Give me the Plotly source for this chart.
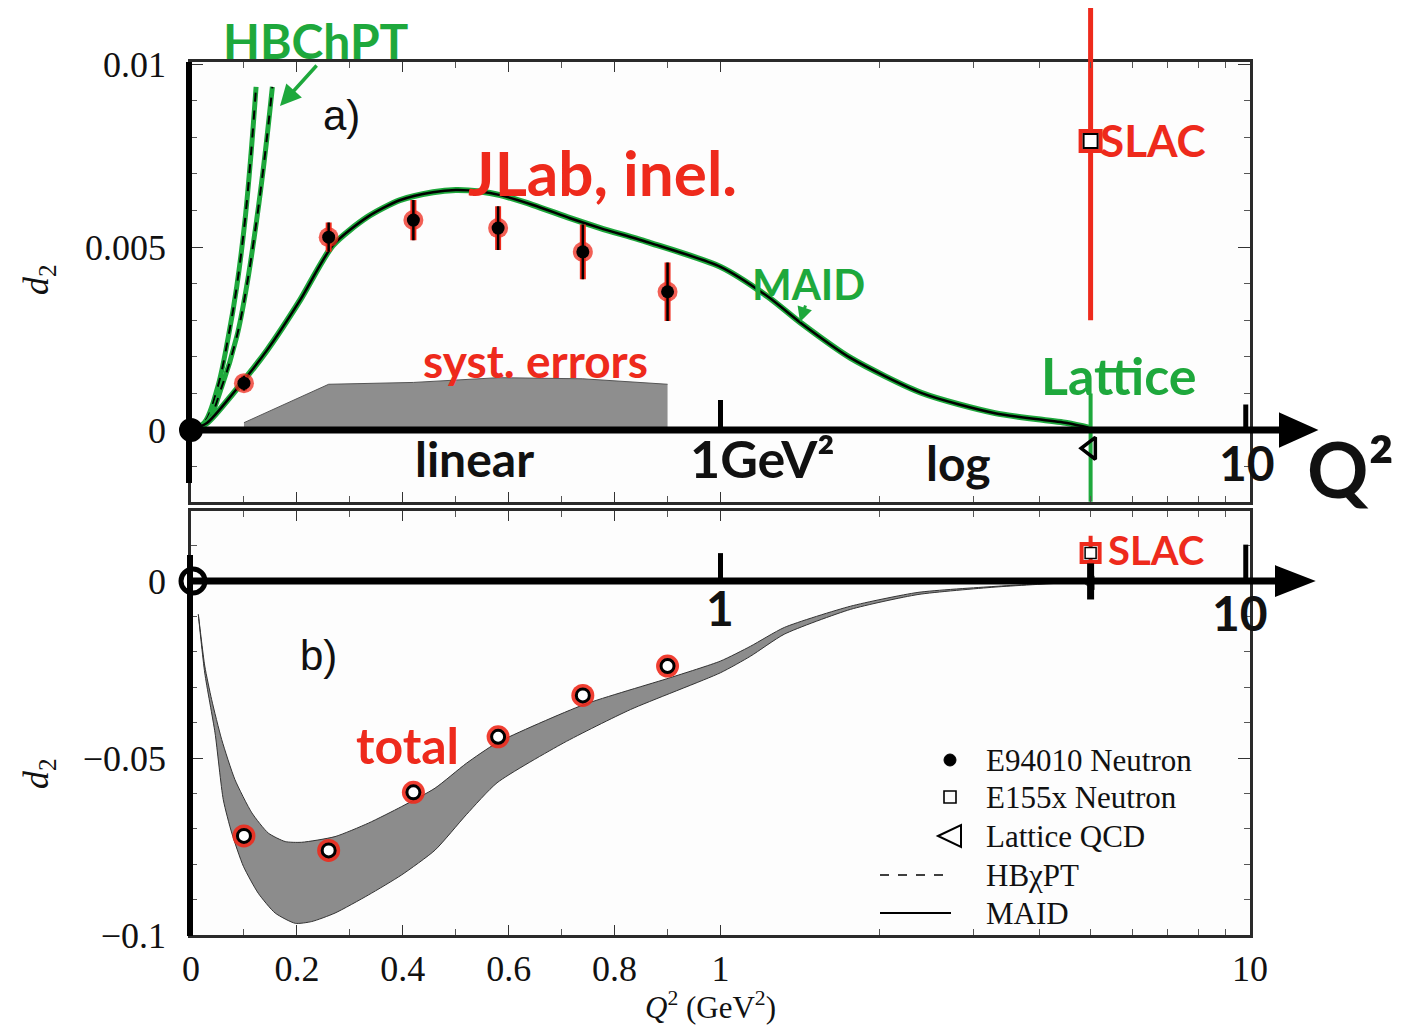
import math
import plotly.graph_objects as go

# ---------------- data ----------------
# panel a) : inelastic d2 of the neutron, E94010 (JLab)
q2_e94010 = [0.10, 0.26, 0.42, 0.58, 0.74, 0.90]
d2_e94010 = [0.00128, 0.00527, 0.00574, 0.00552, 0.00487, 0.00378]
d2_e94010_err = [0.0002, 0.0004, 0.00055, 0.0006, 0.00075, 0.0008]
d2_e94010_syst = [0.0002, 0.00125, 0.0013, 0.00143, 0.0014, 0.00125]

# E155x (SLAC) neutron
q2_e155x = [5.0]
d2_e155x = [0.0079]
d2_e155x_err = [0.0049]

# Lattice QCD
q2_lattice = [5.0]
d2_lattice = [-0.0005]
d2_lattice_err = [0.0015]

# MAID (inelastic)
q2_maid = [0.0, 0.03, 0.08, 0.144, 0.206, 0.268, 0.333, 0.394, 0.457, 0.50, 0.546, 0.584,
           0.646, 0.716, 0.773, 0.868, 1.0, 1.23, 1.42, 1.76, 2.40, 3.30, 4.51, 5.0]
d2_maid = [0.0, 0.00019, 0.00101, 0.00219, 0.00355, 0.00505, 0.00582, 0.00628, 0.0065,
           0.00656, 0.00652, 0.00642, 0.00615, 0.00579, 0.00552, 0.00511, 0.00446,
           0.00364, 0.00292, 0.00197, 0.00101, 0.00046, 0.00019, 0.00005]

# HBchiPT band edges
q2_hb_lo = [0.0, 0.025, 0.0505, 0.0705, 0.0864, 0.102, 0.1134, 0.1229]
d2_hb_lo = [0.0, 0.0002, 0.00118, 0.00255, 0.00392, 0.00574, 0.00756, 0.00938]
q2_hb_hi = [0.0, 0.03, 0.058, 0.0864, 0.105, 0.124, 0.14, 0.1537]
d2_hb_hi = [0.0, 0.0002, 0.00118, 0.00255, 0.00392, 0.00574, 0.00756, 0.00938]

# panel b) : total d2 (elastic + inelastic)
d2_total = [-0.0720, -0.0761, -0.0597, -0.0440, -0.0323, -0.0240]

# MAID total band (upper / lower edges)
q2_band_up = [0.0138, 0.026, 0.039, 0.058, 0.083, 0.115, 0.146, 0.178, 0.209, 0.272,
              0.335, 0.398, 0.461, 0.52, 0.578, 0.742, 0.905, 1.0, 1.14, 1.32, 1.76,
              2.36, 3.3, 4.5, 5.0]
d2_band_up = [-0.0094, -0.024, -0.0335, -0.0448, -0.0561, -0.0655, -0.0712, -0.0736,
              -0.0738, -0.0722, -0.0684, -0.0637, -0.0585, -0.0515, -0.0457, -0.0349,
              -0.0273, -0.0226, -0.0184, -0.0131, -0.0071, -0.0032, -0.0015, -0.0004,
              -0.0002]
q2_band_lo = [0.0138, 0.026, 0.0454, 0.061, 0.077, 0.099, 0.127, 0.159, 0.197, 0.228,
              0.272, 0.335, 0.398, 0.461, 0.52, 0.578, 0.704, 0.83, 1.0, 1.14, 1.32,
              1.76, 2.36, 3.3, 4.5, 5.0]
d2_band_lo = [-0.0094, -0.026, -0.0429, -0.0618, -0.0712, -0.0806, -0.0882, -0.0938,
              -0.0967, -0.0962, -0.0938, -0.0887, -0.0830, -0.0760, -0.0660, -0.0570,
              -0.0457, -0.0363, -0.0259, -0.0212, -0.0150, -0.0080, -0.0038, -0.0017,
              -0.0005, -0.0003]

x_tick_vals = [0, 0.2, 0.4, 0.6, 0.8, 1, 10]
x_tick_text = ["0", "0.2", "0.4", "0.6", "0.8", "1", "10"]
x_minor_vals = [0.1, 0.3, 0.5, 0.7, 0.9, 2, 3, 4, 5, 6, 7, 8, 9]

# ---------------- helpers ----------------
def qt(q):
    """linear axis for Q2<=1, logarithmic above (one decade = one unit)"""
    return q if q <= 1 else 1 + math.log10(q)

def qts(arr):
    return [qt(v) for v in arr]

L, R, T, B = 191, 1250, 62, 935  # plot area in px
W, H = 1418, 1027

def px(x):
    return (x - L) / (R - L)

def py(y):
    return (B - y) / (B - T)

GREEN = "#1ea83c"
RED = "#ee2a1c"
SERIF = "Liberation Serif"
HAND = "Lato"

fig = go.Figure()

# ---------------- panel a ----------------
fig.add_trace(go.Scatter(x=qts(q2_e94010), y=d2_e94010_syst, mode="lines", fill="tozeroy",
                         fillcolor="#8e8e8e", line=dict(color="#555555", width=1),
                         xaxis="x", yaxis="y", showlegend=False, name="syst. errors"))
for qq, dd in ((q2_hb_lo, d2_hb_lo), (q2_hb_hi, d2_hb_hi)):
    fig.add_trace(go.Scatter(x=qts(qq), y=dd, mode="lines", line=dict(color=GREEN, width=5, shape="spline"),
                             xaxis="x", yaxis="y", showlegend=False, hoverinfo="skip"))
    fig.add_trace(go.Scatter(x=qts(qq), y=dd, mode="lines", line=dict(color="black", width=2, dash="dash", shape="spline"),
                             xaxis="x", yaxis="y", showlegend=False, name="HBχPT"))
fig.add_trace(go.Scatter(x=qts(q2_maid), y=d2_maid, mode="lines",
                         line=dict(color=GREEN, width=6, shape="spline", smoothing=0.7),
                         xaxis="x", yaxis="y", showlegend=False, hoverinfo="skip"))
fig.add_trace(go.Scatter(x=qts(q2_maid), y=d2_maid, mode="lines",
                         line=dict(color="black", width=2.5, shape="spline", smoothing=0.7),
                         xaxis="x", yaxis="y", showlegend=False, name="MAID"))
# E94010 with red marker highlight
fig.add_trace(go.Scatter(x=qts(q2_e94010), y=d2_e94010, mode="markers",
                         marker=dict(color=RED, size=20, opacity=0.75),
                         error_y=dict(type="data", array=d2_e94010_err, color=RED, thickness=6, width=0),
                         xaxis="x", yaxis="y", showlegend=False, hoverinfo="skip"))
fig.add_trace(go.Scatter(x=qts(q2_e94010), y=d2_e94010, mode="markers",
                         marker=dict(color="black", size=13),
                         error_y=dict(type="data", array=d2_e94010_err, color="black", thickness=2.5, width=0),
                         xaxis="x", yaxis="y", showlegend=False, name="E94010 Neutron"))
# SLAC E155x
fig.add_trace(go.Scatter(x=qts(q2_e155x), y=d2_e155x, mode="markers",
                         marker=dict(color=RED, size=20, symbol="square-open", line=dict(width=4)),
                         error_y=dict(type="data", array=d2_e155x_err, color=RED, thickness=5, width=0),
                         xaxis="x", yaxis="y", showlegend=False, hoverinfo="skip"))
fig.add_trace(go.Scatter(x=qts(q2_e155x), y=d2_e155x, mode="markers",
                         marker=dict(color="white", size=14, symbol="square", line=dict(width=2, color="black")),
                         xaxis="x", yaxis="y", showlegend=False, name="E155x Neutron"))
# Lattice
fig.add_trace(go.Scatter(x=qts(q2_lattice), y=d2_lattice, mode="markers",
                         marker=dict(color="black", size=19, symbol="triangle-left-open", line=dict(width=3.5)),
                         error_y=dict(type="data", array=d2_lattice_err, color=GREEN, thickness=4, width=0),
                         xaxis="x", yaxis="y", showlegend=False, name="Lattice QCD"))

# ---------------- panel b ----------------
band_x = qts(q2_band_up) + qts(q2_band_lo)[::-1]
band_y = d2_band_up + d2_band_lo[::-1]
fig.add_trace(go.Scatter(x=band_x, y=band_y, mode="lines", fill="toself", fillcolor="#8c8c8c",
                         line=dict(color="#333333", width=1, shape="spline", smoothing=0.6),
                         xaxis="x2", yaxis="y2", showlegend=False, name="MAID total"))
fig.add_trace(go.Scatter(x=qts(q2_e94010), y=d2_total, mode="markers",
                         marker=dict(color=RED, size=23, opacity=0.9),
                         xaxis="x2", yaxis="y2", showlegend=False, hoverinfo="skip"))
fig.add_trace(go.Scatter(x=qts(q2_e94010), y=d2_total, mode="markers",
                         marker=dict(color="white", size=13, line=dict(color="black", width=3)),
                         xaxis="x2", yaxis="y2", showlegend=False, name="total"))
fig.add_trace(go.Scatter(x=qts(q2_e155x), y=d2_e155x, mode="markers",
                         marker=dict(color=RED, size=18, symbol="square-open", line=dict(width=4)),
                         error_y=dict(type="data", array=d2_e155x_err, color=RED, thickness=4, width=0),
                         xaxis="x2", yaxis="y2", showlegend=False, hoverinfo="skip"))
fig.add_trace(go.Scatter(x=qts(q2_e155x), y=d2_e155x, mode="markers",
                         marker=dict(color="white", size=11, symbol="square", line=dict(width=1.5, color="black")),
                         xaxis="x2", yaxis="y2", showlegend=False, name="E155x Neutron"))
fig.add_trace(go.Scatter(x=qts(q2_lattice), y=d2_lattice, mode="markers",
                         marker=dict(color="black", size=12, symbol="triangle-left", line=dict(width=2)),
                         xaxis="x2", yaxis="y2", showlegend=False, name="Lattice QCD"))

# ---------------- axes ----------------
x_tv = qts(x_tick_vals)
x_mv = qts(x_minor_vals)
common = dict(showline=True, linecolor="#2a2a2a", linewidth=2.5, mirror="allticks",
              ticks="inside", tickcolor="#333", tickwidth=1.3, showgrid=False, zeroline=False)
tickfont = dict(family=SERIF, size=36, color="#111")

fig.update_layout(
    width=W, height=H,
    margin=dict(l=L, r=W - R, t=T, b=H - B),
    paper_bgcolor="white", plot_bgcolor="#fdfdfd",
    xaxis=dict(domain=[0, 1], anchor="y", range=[0, 2], tickmode="array", tickvals=x_tv,
               showticklabels=False, ticklen=10,
               minor=dict(tickmode="array", tickvals=x_mv, ticks="inside", ticklen=6, tickcolor="#555"),
               **common),
    yaxis=dict(domain=[py(501.7), 1], anchor="x", range=[-0.00196, 0.01006], tickmode="array",
               tickvals=[0, 0.005, 0.01], ticktext=["0", "0.005", "0.01"], tickfont=tickfont,
               ticklen=12, ticklabelstandoff=15,
               minor=dict(dtick=0.001, tick0=0, ticks="inside", ticklen=6, tickcolor="#555"),
               **common),
    xaxis2=dict(domain=[0, 1], anchor="y2", range=[0, 2], tickmode="array", tickvals=x_tv,
                ticktext=x_tick_text, tickfont=tickfont, ticklen=10, ticklabelstandoff=0,
                minor=dict(tickmode="array", tickvals=x_mv, ticks="inside", ticklen=6, tickcolor="#555"),
                **common),
    yaxis2=dict(domain=[0, py(511)], anchor="x2", range=[-0.1, 0.0198], tickmode="array",
                tickvals=[-0.1, -0.05, 0], ticktext=["\u22120.1", "\u22120.05", "0"], tickfont=tickfont,
                ticklen=12, ticklabelstandoff=15,
                minor=dict(dtick=0.01, tick0=0, ticks="inside", ticklen=6, tickcolor="#555"),
                **common),
)

# ---------------- hand-drawn decorations ----------------
shapes = []
# thick zero axes with arrows
shapes.append(dict(type="line", xref="paper", yref="y", x0=px(186), x1=px(1290), y0=0, y1=0,
                   line=dict(color="black", width=7)))
shapes.append(dict(type="path", xref="paper", yref="y",
                   path=f"M{px(1280)},0.00044 L{px(1316)},0 L{px(1280)},-0.00044 Z",
                   fillcolor="black", line=dict(color="black", width=2)))
shapes.append(dict(type="line", xref="paper", yref="y2", x0=px(188), x1=px(1286), y0=0, y1=0,
                   line=dict(color="black", width=7)))
shapes.append(dict(type="path", xref="paper", yref="y2",
                   path=f"M{px(1276)},0.0041 L{px(1313)},0 L{px(1276)},-0.0041 Z",
                   fillcolor="black", line=dict(color="black", width=2)))
# thick left axes
shapes.append(dict(type="line", xref="paper", yref="paper", x0=px(189), x1=px(189), y0=py(483), y1=py(62),
                   line=dict(color="black", width=6)))
shapes.append(dict(type="line", xref="paper", yref="paper", x0=px(190), x1=px(190), y0=py(555), y1=py(936),
                   line=dict(color="black", width=6)))
# origin circles
shapes.append(dict(type="circle", xref="paper", yref="y", xsizemode="pixel", ysizemode="pixel",
                   xanchor=0, yanchor=0, x0=-11, x1=11, y0=-11, y1=11,
                   fillcolor="black", line=dict(color="black", width=2)))
shapes.append(dict(type="circle", xref="paper", yref="y2", xsizemode="pixel", ysizemode="pixel",
                   xanchor=px(193), yanchor=0, x0=-12, x1=12, y0=-12, y1=12,
                   fillcolor="rgba(0,0,0,0)", line=dict(color="black", width=5)))
# hand ticks at 1 and 10
for xv, ytop in ((qt(1), 0.00082), (qt(10) - 0.008, 0.0007)):
    shapes.append(dict(type="line", xref="x", yref="y", x0=xv, x1=xv, y0=0, y1=ytop,
                       line=dict(color="black", width=5)))
for xv, ytop in ((qt(1), 0.0079), (qt(10) - 0.008, 0.0103)):
    shapes.append(dict(type="line", xref="x", yref="y2", x0=xv, x1=xv, y0=0, y1=ytop,
                       line=dict(color="black", width=5)))
# SLAC error bar drawn on beyond the frame
shapes.append(dict(type="line", xref="x", yref="paper", x0=qt(q2_e155x[0]), x1=qt(q2_e155x[0]),
                   y0=1.0, y1=py(8), line=dict(color=RED, width=5)))
# lattice blob in panel b
shapes.append(dict(type="line", xref="x", yref="y2", x0=qt(q2_lattice[0]), x1=qt(q2_lattice[0]),
                   y0=-0.0052, y1=0.005, line=dict(color="black", width=7)))

# legend (drawn by hand, like the original)
leg_y = [760, 797, 836, 875, 913]
shapes.append(dict(type="circle", xref="paper", yref="paper", xsizemode="pixel", ysizemode="pixel",
                   xanchor=px(950), yanchor=py(leg_y[0]), x0=-6, x1=6, y0=-6, y1=6,
                   fillcolor="black", line=dict(color="black", width=1)))
shapes.append(dict(type="rect", xref="paper", yref="paper", xsizemode="pixel", ysizemode="pixel",
                   xanchor=px(950), yanchor=py(leg_y[1]), x0=-6, x1=6, y0=-6, y1=6,
                   line=dict(color="black", width=1.6)))
shapes.append(dict(type="path", xref="paper", yref="paper",
                   path=f"M{px(938)},{py(leg_y[2])} L{px(961)},{py(leg_y[2]-11)} L{px(961)},{py(leg_y[2]+11)} Z",
                   line=dict(color="black", width=2)))
shapes.append(dict(type="line", xref="paper", yref="paper", x0=px(880), x1=px(951),
                   y0=py(leg_y[3]), y1=py(leg_y[3]), line=dict(color="black", width=1.6, dash="dash")))
shapes.append(dict(type="line", xref="paper", yref="paper", x0=px(880), x1=px(951),
                   y0=py(leg_y[4]), y1=py(leg_y[4]), line=dict(color="black", width=2)))

fig.update_layout(shapes=shapes)

annotations = []

def text(t, xp, yp, color, size, family=HAND, bold=True, xanchor="center", angle=0):
    annotations.append(dict(text=f"<b>{t}</b>" if bold else t, x=px(xp), y=py(yp),
                            xref="paper", yref="paper", showarrow=False, textangle=angle,
                            font=dict(family=family, size=size, color=color),
                            xanchor=xanchor, yanchor="middle"))

legend_text = ["E94010 Neutron", "E155x Neutron", "Lattice QCD", "HBχPT", "MAID"]
for lbl, yy in zip(legend_text, leg_y):
    text(lbl, 984, yy, "#111", 31, family=SERIF, bold=False, xanchor="left")

text("<i>d</i><sub>2</sub>", 38, 280, "#111", 36, family=SERIF, bold=False, angle=-90)
text("<i>d</i><sub>2</sub>", 38, 774, "#111", 36, family=SERIF, bold=False, angle=-90)
text("<i>Q</i><sup>2</sup> (GeV<sup>2</sup>)", 710, 1006, "#111", 31, family=SERIF, bold=False)

text("HBChPT", 316, 40, GREEN, 48)
text("a)", 341, 115, "#111", 42, family="Liberation Sans", bold=False)
text("JLab, inel.", 602, 172, RED, 62)
text("MAID", 808, 284, GREEN, 42)
text("SLAC", 1153, 140, RED, 44)
text("syst. errors", 535, 360, RED, 46)
text("Lattice", 1119, 375, GREEN, 52)
text("linear", 474, 458, "#111", 48)
text("1GeV²", 762, 458, "#111", 52)
text("log", 958, 462, "#111", 48)
text("10", 1247, 462, "#111", 48)
text("Q²", 1350, 468, "#111", 76)
text("SLAC", 1156, 550, RED, 40)
text("1", 720, 607, "#111", 48)
text("10", 1240, 612, "#111", 48)
text("b)", 318, 655, "#111", 42, family="Liberation Sans", bold=False)
text("total", 407, 745, RED, 50)

# hand-drawn arrows
annotations.append(dict(text="", x=px(280), y=py(106), xref="paper", yref="paper", showarrow=True,
                        ax=38, ay=-42, arrowhead=2, arrowsize=1.2, arrowwidth=3.5, arrowcolor=GREEN))
annotations.append(dict(text="", x=px(800), y=py(322), xref="paper", yref="paper", showarrow=True,
                        ax=6, ay=-18, arrowhead=2, arrowsize=1, arrowwidth=3, arrowcolor=GREEN))

fig.update_layout(annotations=annotations)

fig.write_html("out.html")
